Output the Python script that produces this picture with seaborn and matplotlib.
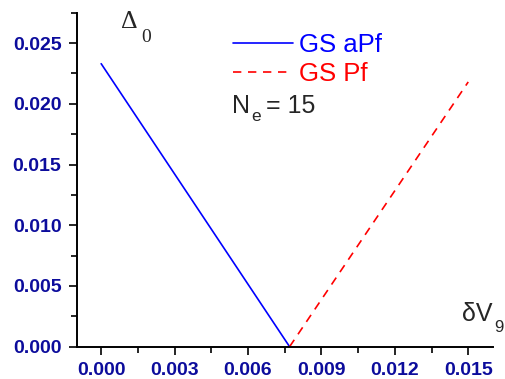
import matplotlib
matplotlib.use("Agg")
import matplotlib.pyplot as plt
from matplotlib.ticker import MultipleLocator
import seaborn as sns
import pandas as pd

# Gap Delta_0 versus delta V_9 for the two ground states (N_e = 15)
dv_apf = [0.0, 0.0077]
gap_apf = [0.0233, 0.0]
dv_pf = [0.0077, 0.0150]
gap_pf = [0.0, 0.0218]

xticks = [0.000, 0.003, 0.006, 0.009, 0.012, 0.015]
xtick_labels = ["0.000", "0.003", "0.006", "0.009", "0.012", "0.015"]
yticks = [0.000, 0.005, 0.010, 0.015, 0.020, 0.025]
ytick_labels = ["0.000", "0.005", "0.010", "0.015", "0.020", "0.025"]

sns.set_theme(style="ticks")
plt.rcParams["font.family"] = ["Liberation Sans", "DejaVu Sans"]

W, H = 505, 379
fig = plt.figure(figsize=(W / 100, H / 100), dpi=100)
ax = fig.add_axes([76.7 / W, 1 - 346.7 / H, (492.7 - 76.7) / W, (346.7 - 12.7) / H])

df_apf = pd.DataFrame({"dV": dv_apf, "gap": gap_apf})
df_pf = pd.DataFrame({"dV": dv_pf, "gap": gap_pf})
sns.lineplot(data=df_apf, x="dV", y="gap", ax=ax, color="#0000ff", lw=1.2,
             label="GS aPf")
sns.lineplot(data=df_pf, x="dV", y="gap", ax=ax, color="#ff0000", lw=1.2,
             label="GS Pf")
ax.lines[1].set_dashes([5, 4])

ax.set_xlim(-0.001, 0.016)
ax.set_ylim(0.0, 0.0275)
ax.set_xlabel("")
ax.set_ylabel("")
for s in ("top", "right"):
    ax.spines[s].set_visible(False)
for s in ("left", "bottom"):
    ax.spines[s].set_linewidth(1.4)
    ax.spines[s].set_color("black")

tick_color = "#0c0c9c"
ax.set_xticks(xticks)
ax.set_xticklabels(xtick_labels)
ax.set_yticks(yticks)
ax.set_yticklabels(ytick_labels)
ax.xaxis.set_minor_locator(MultipleLocator(0.0015))
ax.yaxis.set_minor_locator(MultipleLocator(0.0025))
ax.tick_params(which="major", length=6, width=1.2, color="black", direction="out")
ax.tick_params(which="minor", length=4, width=1.2, color="black", direction="out")
ax.tick_params(axis="both", which="major", labelsize=14, labelcolor=tick_color, pad=5)
for lab in ax.get_xticklabels() + ax.get_yticklabels():
    lab.set_fontweight("bold")

leg = ax.legend(loc="upper left", bbox_to_anchor=(0.357, 0.962), frameon=False,
                fontsize=18.5, handlelength=2.33, handletextpad=0.25,
                labelspacing=0.2, borderaxespad=0.0, borderpad=0.3)
for txt, col in zip(leg.get_texts(), ["#0000ff", "#ff0000"]):
    txt.set_color(col)

def ftext(x, y, s, **kw):
    fig.text(x / W, 1 - y / H, s, **kw)

# Axis titles drawn as text with subscripts
ftext(121, 27.5, "Δ", fontsize=18.5, family="Liberation Serif", va="baseline")
ftext(141, 42, "0", fontsize=14, family="Liberation Serif", va="baseline")
ftext(462, 321, "δV", fontsize=18, va="baseline")
ftext(494, 332, "9", fontsize=12, va="baseline")

# Electron number
ftext(232, 113, "N", fontsize=18, va="baseline")
ftext(251, 121, "e", fontsize=12.5, va="baseline")
ftext(266, 113, "= 15", fontsize=18, va="baseline")

fig.savefig("out.png", dpi=100)
